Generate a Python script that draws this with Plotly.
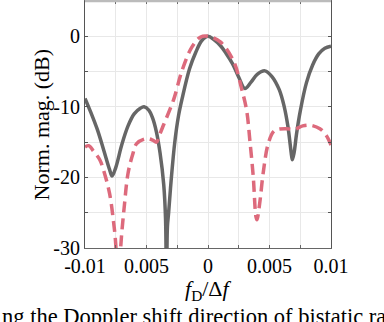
import plotly.graph_objects as go

# gray solid response
x_solid = [-0.0100, -0.0095, -0.0090, -0.0085, -0.0080, -0.0078, -0.0075, -0.0070, -0.0065,
           -0.0060, -0.0055, -0.0052, -0.0048, -0.0045, -0.0042, -0.0039, -0.0036, -0.00345,
           -0.00337, -0.0033, -0.0032, -0.0030, -0.0027, -0.0024, -0.0021, -0.0015, -0.0010,
           -0.0005, 0.0, 0.0005, 0.0010, 0.0015, 0.0020, 0.0025, 0.0030, 0.0035, 0.0040,
           0.00463, 0.0052, 0.0058, 0.0062, 0.0065, 0.0068, 0.00686, 0.0070, 0.0072, 0.0075,
           0.0080, 0.0085, 0.0090, 0.0095, 0.0100]
y_solid = [-8.8, -10.9, -13.2, -16.0, -18.9, -19.8, -18.6, -15.3, -12.7,
           -11.0, -10.2, -10.0, -10.5, -11.6, -13.5, -16.5, -21.0, -26.0,
           -40.0, -27.0, -25.0, -20.5, -15.0, -11.3, -8.8, -4.6, -2.3,
           -0.6, 0.0, -0.5, -1.3, -2.5, -3.9, -5.8, -7.4, -6.5, -5.4,
           -4.9, -5.7, -7.6, -10.0, -12.8, -17.0, -17.5, -16.5, -13.8, -10.6,
           -6.6, -4.1, -2.5, -1.7, -1.4]

# red dashed response
x_dash = [-0.0100, -0.0097, -0.0093, -0.0088, -0.0084, -0.0080, -0.0077, -0.0075, -0.0073,
          -0.0071, -0.0068, -0.0065, -0.0061, -0.0058, -0.0050, -0.0045, -0.0042, -0.0039,
          -0.0036, -0.0028, -0.0021, -0.0013, -0.0006, 0.0, 0.0010, 0.0021, 0.0027, 0.00314,
          0.0034, 0.00368, 0.0039, 0.00398, 0.0042, 0.0045, 0.0049, 0.0054, 0.0064, 0.0070,
          0.0077, 0.0083, 0.0091, 0.0096, 0.0100]
y_dash = [-15.7, -15.5, -16.3, -17.5, -19.5, -22.3, -26.0, -29.5, -40.0,
          -30.0, -24.0, -19.4, -16.6, -15.2, -14.5, -14.7, -15.0, -13.8,
          -12.5, -9.0, -4.8, -1.5, -0.1, 0.0, -0.8, -3.6, -7.2, -10.5,
          -14.7, -19.9, -25.6, -26.0, -23.7, -19.2, -15.2, -13.4, -13.1, -13.2,
          -12.7, -12.6, -13.1, -14.0, -15.4]

x_ticks = [-0.01, -0.0075, -0.005, -0.0025, 0, 0.0025, 0.005, 0.0075, 0.01]
x_labels = ['-0.01', '', '0.005', '', '0', '', '0.005', '', '0.01']
y_ticks = [5, 0, -5, -10, -15, -20, -25, -30]
y_labels = ['', '0', '', '-10', '', '-20', '', '-30']

serif = 'Liberation Serif'
fig = go.Figure()
fig.add_trace(go.Scatter(x=x_solid, y=y_solid, mode='lines', line_shape='spline',
                         line=dict(color='rgb(102,102,102)', width=3.5), showlegend=False))
fig.add_trace(go.Scatter(x=x_dash, y=y_dash, mode='lines', line_shape='spline',
                         line=dict(color='rgb(221,106,124)', width=3.5, dash='11px,6px'),
                         showlegend=False))

fig.update_layout(width=384, height=322, margin=dict(l=85, r=53, t=1, b=74),
                  plot_bgcolor='white', paper_bgcolor='white',
                  font=dict(family=serif, size=20, color='black'))

fig.update_xaxes(range=[-0.01, 0.01], tickvals=x_ticks, ticktext=x_labels, showgrid=True,
                 gridcolor='#e8e8e8', gridwidth=1, zeroline=False, showline=True,
                 linecolor='#666666', linewidth=1.2, mirror='ticks', ticks='inside',
                 ticklen=3, tickcolor='#666666', tickfont=dict(size=20, family=serif),
                 automargin=False)
fig.update_yaxes(range=[-30, 5], tickvals=y_ticks, ticktext=y_labels, showgrid=True,
                 gridcolor='#e8e8e8', gridwidth=1, zeroline=False, showline=True,
                 linecolor='#555555', linewidth=1.2, mirror='ticks', ticks='inside',
                 ticklen=3, tickcolor='#555555', tickfont=dict(size=20, family=serif),
                 automargin=False)

fig.add_shape(type='line', xref='paper', yref='paper', x0=0, x1=1, y0=1, y1=1,
              line=dict(color='#bbbbbb', width=2.5), layer='above')

fig.add_annotation(text='Norm. mag. (dB)', xref='paper', yref='paper', x=-0.175, y=0.5,
                   xanchor='center', yanchor='middle', textangle=-90, showarrow=False,
                   font=dict(size=22, family=serif))
fig.add_annotation(text='<i>f</i><sub>D</sub>/Δ<i>f</i>', xref='paper', yref='paper',
                   x=0.5, y=-0.17, xanchor='center', yanchor='middle', showarrow=False,
                   font=dict(size=22, family=serif))
fig.add_annotation(text='ng the Doppler shift direction of bistatic ra', xref='paper',
                   yref='paper', x=-0.3455, xanchor='left', y=-0.278, yanchor='middle',
                   showarrow=False, font=dict(size=22.5, family=serif))

fig.write_html('out.html', config={'displayModeBar': False},
               post_script="document.body.style.margin='0';")
